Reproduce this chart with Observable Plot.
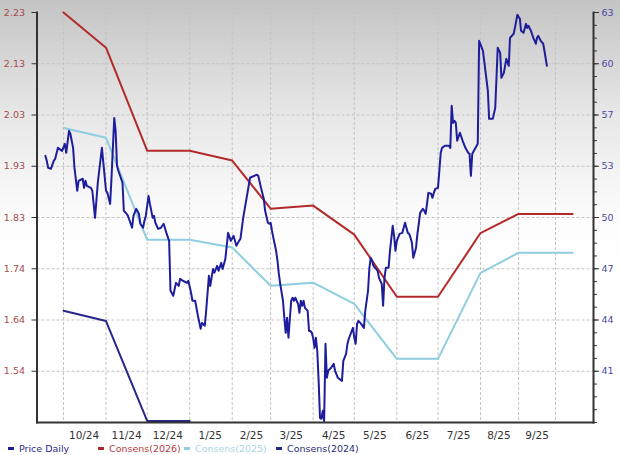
<!DOCTYPE html>
<html>
<head>
<meta charset="utf-8">
<script src="https://cdn.jsdelivr.net/npm/d3@7"></script>
<script src="https://cdn.jsdelivr.net/npm/@observablehq/plot@0.6"></script>
<style>
  html, body { margin: 0; padding: 0; }
  body {
    width: 620px; height: 455px; overflow: hidden;
    background: linear-gradient(to bottom, #c4c4c4 0px, #e6e6e6 110px, #fbfbfb 210px, #ffffff 260px);
    font-family: "DejaVu Sans", Verdana, sans-serif;
  }
  #chart { position: relative; width: 620px; height: 442px; }
  #chart svg { position: absolute; left: 0; top: 0; }
  #legend { position: relative; width: 620px; height: 13px; font-size: 9.5px; line-height: 13px; }
  .item { position: absolute; top: 0; white-space: nowrap; }
  .sw { display: inline-block; width: 6px; height: 2.5px; vertical-align: middle; margin-right: 5px; position: relative; top: -1px; }
</style>
</head>
<body>
<div id="chart"></div>
<div id="legend"></div>
<script>
// ---------- data ----------
const consDates = ["2024-10-01","2024-11-01","2024-12-01","2025-01-01","2025-02-01","2025-03-01","2025-04-01","2025-05-01","2025-06-01","2025-07-01","2025-08-01","2025-09-01","2025-10-15"];
const cons2026 = [2.230, 2.162, 1.963, 1.963, 1.944, 1.851, 1.857, 1.801, 1.681, 1.681, 1.804, 1.841, 1.841];
const cons2025 = [2.007, 1.988, 1.791, 1.791, 1.776, 1.702, 1.708, 1.667, 1.561, 1.561, 1.727, 1.766, 1.766];
const cons2024Dates = ["2024-10-01","2024-11-01","2024-12-01","2025-01-01"];
const cons2024 = [1.654, 1.634, 1.441, 1.441];

const priceDates = [
"2024-09-18","2024-09-19","2024-09-20","2024-09-22","2024-09-24","2024-09-25","2024-09-27","2024-09-30",
"2024-10-02","2024-10-03","2024-10-05","2024-10-06","2024-10-08","2024-10-09","2024-10-11","2024-10-12","2024-10-15","2024-10-16","2024-10-17","2024-10-18","2024-10-21","2024-10-22","2024-10-24","2024-10-26","2024-10-29",
"2024-11-01","2024-11-02","2024-11-04","2024-11-05","2024-11-07","2024-11-08","2024-11-09","2024-11-10","2024-11-13","2024-11-14","2024-11-16","2024-11-17","2024-11-20","2024-11-21","2024-11-23","2024-11-25","2024-11-26","2024-11-28","2024-11-29","2024-11-30",
"2024-12-02","2024-12-03","2024-12-05","2024-12-06","2024-12-07","2024-12-09","2024-12-11","2024-12-13","2024-12-15","2024-12-17","2024-12-18","2024-12-20","2024-12-22","2024-12-24","2024-12-25","2024-12-27","2024-12-30","2024-12-31",
"2025-01-02","2025-01-03","2025-01-05","2025-01-07","2025-01-09","2025-01-10","2025-01-12","2025-01-13","2025-01-15","2025-01-16","2025-01-18","2025-01-19","2025-01-21","2025-01-22","2025-01-24","2025-01-25","2025-01-27","2025-01-29","2025-01-31",
"2025-02-02","2025-02-04","2025-02-06","2025-02-07","2025-02-09","2025-02-12","2025-02-14","2025-02-17","2025-02-19","2025-02-20","2025-02-22","2025-02-24","2025-02-25","2025-02-27","2025-02-28",
"2025-03-01","2025-03-02","2025-03-03","2025-03-05","2025-03-06","2025-03-07","2025-03-08","2025-03-10","2025-03-11","2025-03-12","2025-03-13","2025-03-14","2025-03-16","2025-03-17","2025-03-18","2025-03-19","2025-03-21","2025-03-22","2025-03-23","2025-03-24","2025-03-25","2025-03-26","2025-03-28","2025-03-29","2025-03-30","2025-03-31",
"2025-04-01","2025-04-02","2025-04-03","2025-04-04","2025-04-05","2025-04-06","2025-04-07","2025-04-08","2025-04-09","2025-04-10","2025-04-11","2025-04-12","2025-04-14","2025-04-16","2025-04-17","2025-04-19","2025-04-22","2025-04-23","2025-04-25","2025-04-26","2025-04-27","2025-04-30",
"2025-05-01","2025-05-02","2025-05-03","2025-05-04","2025-05-06","2025-05-08","2025-05-09","2025-05-11","2025-05-12","2025-05-13","2025-05-14","2025-05-15","2025-05-18","2025-05-19","2025-05-21","2025-05-22","2025-05-23","2025-05-24","2025-05-26","2025-05-27","2025-05-29","2025-05-30","2025-05-31",
"2025-06-01","2025-06-03","2025-06-05","2025-06-06","2025-06-07","2025-06-09","2025-06-10","2025-06-11","2025-06-12","2025-06-13","2025-06-15","2025-06-16","2025-06-17","2025-06-18","2025-06-20","2025-06-21","2025-06-22","2025-06-23","2025-06-24","2025-06-26","2025-06-27","2025-06-28","2025-06-29",
"2025-07-01","2025-07-02","2025-07-03","2025-07-04","2025-07-06","2025-07-09","2025-07-10","2025-07-11","2025-07-12","2025-07-13","2025-07-14","2025-07-15","2025-07-17","2025-07-19","2025-07-21","2025-07-23","2025-07-24","2025-07-25","2025-07-26","2025-07-28","2025-07-30","2025-07-31",
"2025-08-03","2025-08-05","2025-08-07","2025-08-08","2025-08-11","2025-08-13","2025-08-15","2025-08-17","2025-08-18","2025-08-20","2025-08-22","2025-08-24","2025-08-25","2025-08-28","2025-08-29","2025-08-31",
"2025-09-02","2025-09-03","2025-09-05","2025-09-07","2025-09-08","2025-09-09","2025-09-11","2025-09-13","2025-09-15","2025-09-16","2025-09-17","2025-09-19","2025-09-21","2025-09-22","2025-09-24"
];
const priceValues = [
54.05,53.74,53.30,53.24,53.74,53.86,54.55,54.36,
54.80,54.24,55.61,55.43,54.55,53.30,51.87,52.49,52.62,52.05,52.49,52.18,52.05,51.87,50.18,52.37,54.55,
51.87,51.74,51.05,52.68,56.42,55.61,53.43,53.12,52.37,50.62,50.43,50.30,49.56,50.30,50.74,50.43,49.81,49.56,49.99,50.30,
51.55,51.05,50.18,50.30,49.87,49.49,49.56,49.81,49.24,48.74,45.62,45.31,46.12,45.93,46.37,46.25,46.12,46.25,
45.50,45.00,45.00,44.06,43.25,43.62,43.44,44.37,46.56,45.93,46.99,46.75,47.18,46.87,47.37,46.99,47.62,49.24,48.74,
49.06,48.43,48.74,48.87,50.18,51.68,52.68,52.80,52.87,52.80,52.05,51.37,50.62,49.87,49.81,
49.87,49.37,48.93,48.12,47.50,46.68,46.06,45.00,43.94,43.00,43.94,42.69,45.00,45.19,45.00,45.19,44.81,44.25,45.00,44.69,45.00,44.56,44.37,43.12,43.12,43.00,
42.69,42.06,42.69,41.88,40.00,37.69,37.63,38.13,37.50,42.31,40.19,40.63,40.81,41.06,40.63,40.19,40.00,41.25,41.69,42.31,42.63,43.31,
42.69,42.31,43.56,43.75,43.56,43.31,44.37,45.62,47.06,47.68,47.50,47.18,46.87,46.43,46.06,44.69,46.43,47.06,47.06,48.12,49.68,49.06,48.12,
48.74,49.18,49.24,49.56,49.87,49.24,49.18,48.93,48.62,47.68,48.31,49.18,49.81,50.49,50.74,50.62,50.43,51.05,51.74,51.68,51.43,51.74,51.99,
52.05,53.12,54.24,54.55,54.68,54.68,54.55,57.17,56.11,56.24,56.11,54.99,55.49,54.99,54.55,54.24,54.18,52.80,54.18,54.49,54.80,61.23,
60.61,59.36,58.11,56.36,56.36,57.05,60.80,60.48,58.92,59.23,60.11,59.67,61.42,61.67,62.04,62.86,
62.61,61.86,61.73,62.29,62.04,62.17,61.86,61.42,61.05,61.42,61.54,61.23,61.05,60.61,59.67
];

const monthStarts = ["2024-10-01","2024-11-01","2024-12-01","2025-01-01","2025-02-01","2025-03-01","2025-04-01","2025-05-01","2025-06-01","2025-07-01","2025-08-01","2025-09-01","2025-10-01"];
const monthLabelDates = ["2024-10-16","2024-11-16","2024-12-16","2025-01-16","2025-02-15","2025-03-16","2025-04-16","2025-05-16","2025-06-16","2025-07-16","2025-08-16","2025-09-16"];
const monthLabels = ["10/24","11/24","12/24","1/25","2/25","3/25","4/25","5/25","6/25","7/25","8/25","9/25"];

const epsTicks = [2.23, 2.131, 2.032, 1.933, 1.834, 1.735, 1.636, 1.537];
const epsTickLabels = ["2.23","2.13","2.03","1.93","1.83","1.74","1.64","1.54"];
const epsDomain = [1.438, 2.23];

const priceTicks = [63, 59.8, 56.6, 53.4, 50.2, 47.0, 43.8, 40.6];
const priceTickLabels = ["63","60","57","53","50","47","44","41"];
const priceDomain = [37.4, 63];
const priceMinorStep = 0.8;

const legendLabels = ["Price Daily", "Consens(2026)", "Consens(2025)", "Consens(2024)"];

// x-axis time breaks (the source chart compresses its last months)
const xBreakDates = ["2024-09-12","2024-10-01","2025-08-01","2025-10-01","2025-11-01"];

// ---------- styling ----------
const colPrice = "#1e1e9c";
const col2026 = "#b32a2a";
const col2025 = "#8fcde0";
const col2024 = "#27278a";
const legendTextColors = ["#2a2a8c", "#b54040", "#a9d5e4", "#2b2b78"];
const legendSwatch = [colPrice, col2026, col2025, col2024];
const legendLeft = [8, 98, 184, 276];

// ---------- build ----------
const parse = d3.utcParse("%Y-%m-%d");
const cons = consDates.map((d, i) => ({date: parse(d), v26: cons2026[i], v25: cons2025[i]}));
const c24 = cons2024Dates.map((d, i) => ({date: parse(d), v: cons2024[i]}));
const price = priceDates.map((d, i) => ({date: parse(d), v: priceValues[i]}));
const months = monthStarts.map(parse);
const labelDates = monthLabelDates.map(parse);
const labelMap = new Map(labelDates.map((d, i) => [+d, monthLabels[i]]));
const epsLabelMap = new Map(epsTicks.map((d, i) => [d, epsTickLabels[i]]));
const priceLabelMap = new Map(priceTicks.map((d, i) => [d, priceTickLabels[i]]));
const minorTicks = d3.range(0, Math.round((priceDomain[1] - priceDomain[0]) / priceMinorStep) + 1)
  .map(i => +(priceDomain[0] + i * priceMinorStep).toFixed(2));

const W = 620, H = 442, yTop = 12, yBottom = 422;
const xScale = {type: "utc", domain: xBreakDates.map(parse), range: [36.5, 63, 480, 555, 593], label: null};
const common = {
  width: W, height: H, marginLeft: 36.5, marginRight: 27, marginTop: yTop, marginBottom: H - yBottom,
  style: {background: "transparent", fontFamily: "'DejaVu Sans', Verdana, sans-serif", overflow: "visible"}
};
const grid = {stroke: "#c4c4c4", strokeDasharray: "3,2", strokeWidth: 1};

const plotA = Plot.plot({
  ...common,
  x: xScale,
  y: {domain: epsDomain, range: [yBottom, yTop], label: null},
  marks: [
    Plot.ruleY(epsTicks, grid),
    Plot.ruleX(months, grid),
    Plot.line(cons, {x: "date", y: "v25", stroke: col2025, strokeWidth: 2}),
    Plot.line(cons, {x: "date", y: "v26", stroke: col2026, strokeWidth: 2}),
    Plot.line(c24, {x: "date", y: "v", stroke: col2024, strokeWidth: 2}),
    Plot.axisY({ticks: epsTicks, tickSize: 5, tickFormat: () => "", color: "#333", label: null}),
    Plot.axisY({ticks: epsTicks, tickSize: 0, tickPadding: 12, tickFormat: d => epsLabelMap.get(d), color: "#a54b4b", fontSize: 9.5, label: null}),
    Plot.axisX({ticks: labelDates, tickSize: 0, tickPadding: 9, tickFormat: d => labelMap.get(+d), color: "#333", fontSize: 10.5, label: null}),
    Plot.frame({anchor: "left", stroke: "#333", strokeWidth: 2}),
    Plot.frame({anchor: "bottom", stroke: "#333", strokeWidth: 2})
  ]
});

const plotB = Plot.plot({
  ...common,
  x: {...xScale, axis: null},
  y: {domain: priceDomain, range: [yBottom, yTop], label: null},
  marks: [
    Plot.line(price, {x: "date", y: "v", stroke: colPrice, strokeWidth: 2}),
    Plot.axisY({anchor: "right", ticks: minorTicks, tickSize: 3, tickFormat: () => "", color: "#333", label: null}),
    Plot.axisY({anchor: "right", ticks: priceTicks, tickSize: 5, tickFormat: () => "", color: "#333", label: null}),
    Plot.axisY({anchor: "right", ticks: priceTicks, tickSize: 0, tickPadding: 8, tickFormat: d => priceLabelMap.get(d), color: "#4a4aa5", fontSize: 9.5, label: null}),
    Plot.frame({anchor: "right", stroke: "#333", strokeWidth: 2})
  ]
});

const chart = document.getElementById("chart");
chart.appendChild(plotA);
chart.appendChild(plotB);

const legend = document.getElementById("legend");
legendLabels.forEach((lab, i) => {
  const it = document.createElement("div");
  it.className = "item";
  it.style.left = legendLeft[i] + "px";
  it.style.color = legendTextColors[i];
  const sw = document.createElement("span");
  sw.className = "sw";
  sw.style.background = legendSwatch[i];
  it.appendChild(sw);
  it.appendChild(document.createTextNode(lab));
  legend.appendChild(it);
});
</script>
</body>
</html>
